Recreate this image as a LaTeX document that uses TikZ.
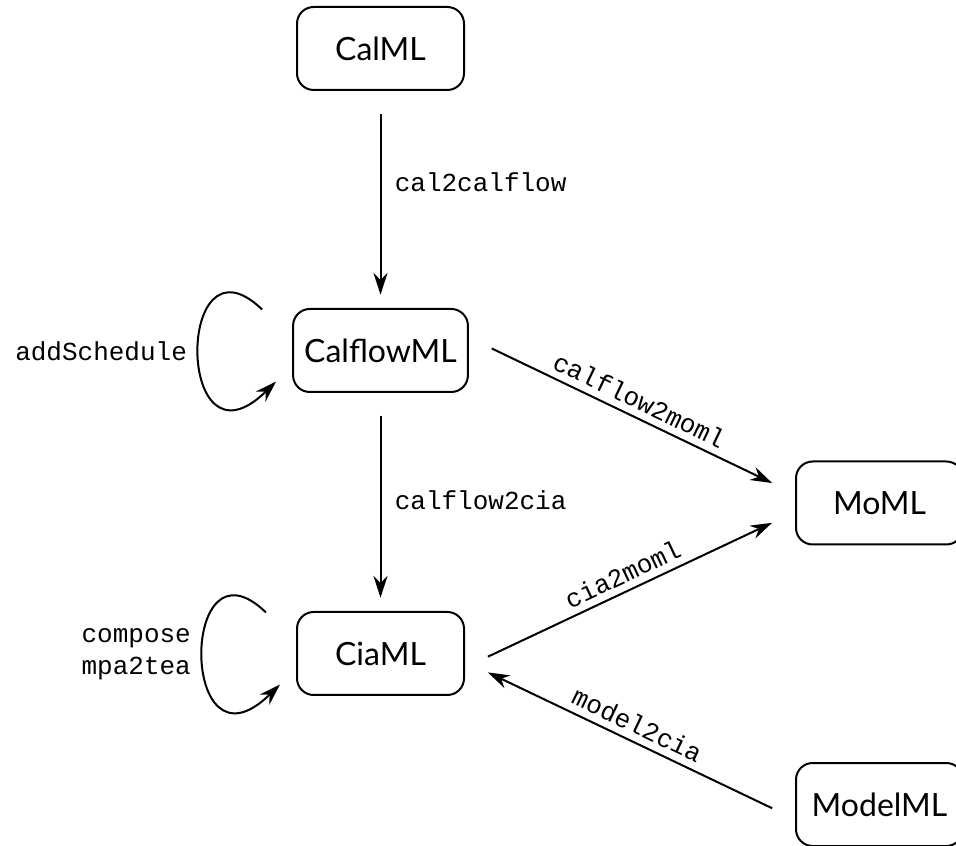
\documentclass[tikz,border=0pt]{standalone}
\usepackage{fontspec}
\setmainfont{Lato}
\setmonofont{Liberation Mono}
\usetikzlibrary{arrows.meta,positioning,calc}

\begin{document}
\begin{tikzpicture}[x=0.3pt, y=-0.3pt,
  box/.style={rectangle, draw, semithick, rounded corners=5pt, minimum width=50.1pt, minimum height=24.9pt, align=center, font=\fontsize{9.6}{11.5}\selectfont},
  lbl/.style={font=\fontsize{7.8}{9.6}\selectfont\ttfamily, inner sep=2pt},
  arr/.style={-{Stealth[length=6.5pt, width=4.2pt]}, semithick}]

\useasboundingbox (0,0) rectangle (956,846);

\node[box] (calml) at (380.5,48.5) {CalML};

\node[box, below=65.1pt of calml] (calflowml) {CalflowML};

\node[box, below=65.4pt of calflowml] (ciaml) {CiaML};

\node[box] (moml) at (879.5,503) {MoML};

\node[box] (modelml) at (879.5,804.5) {ModelML};

\draw[arr, shorten <=6.9pt, shorten >=4pt] (calml) -- node[lbl, right=2pt, pos=0.42] {cal2calflow} (calflowml);

\draw[arr, shorten <=6.9pt, shorten >=4pt] (calflowml) -- node[lbl, right=2pt, pos=0.49] {calflow2cia} (ciaml);

\draw[arr, shorten <=7.6pt, shorten >=7.6pt] ([yshift=3.9pt]calflowml.east) -- node[lbl, above, sloped] {calflow2moml} ([yshift=2.7pt]moml.west);

\draw[arr, shorten <=7.6pt, shorten >=7.6pt] ([yshift=-4.2pt]ciaml.east) -- node[lbl, above, sloped] {cia2moml} ([yshift=-2.7pt]moml.west);

\draw[arr, shorten <=7.6pt, shorten >=7.6pt] ([yshift=-4.4pt]modelml.west) -- node[lbl, above, sloped] {model2cia} ([yshift=-2.4pt]ciaml.east);

% self loops
\draw[arr] ($(calflowml.west)+(-30,-41)$) .. controls ($(calflowml.west)+(-117,-125)$) and ($(calflowml.west)+(-117,130)$) .. ($(calflowml.west)+(-16,31)$) node[lbl, left=1.2pt, pos=0.5] {addSchedule};

\draw[arr] ($(ciaml.west)+(-30,-41)$) .. controls ($(ciaml.west)+(-117,-125)$) and ($(ciaml.west)+(-117,130)$) .. ($(ciaml.west)+(-16,31)$) node[lbl, left=1.2pt, pos=0.5, align=right] {compose\\mpa2tea};

\end{tikzpicture}
\end{document}
